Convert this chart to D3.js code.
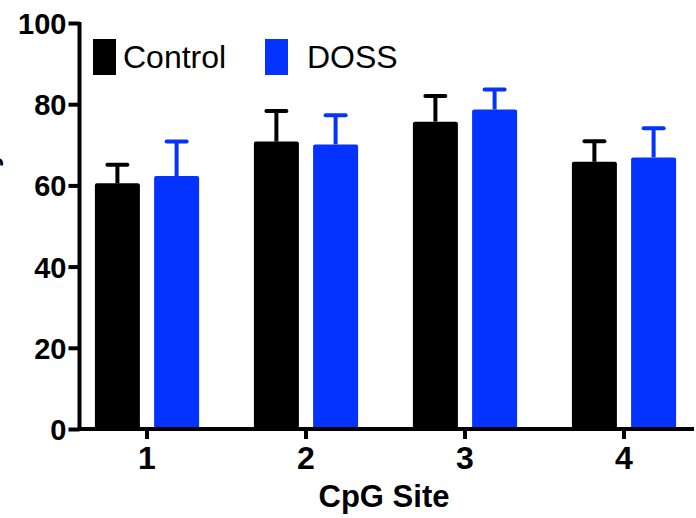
<!DOCTYPE html>
<html>
<head>
<meta charset="utf-8">
<script src="https://cdn.jsdelivr.net/npm/d3@7"></script>
<style>
  html, body { margin: 0; padding: 0; background: #fff; }
  svg { display: block; }
</style>
</head>
<body>
<svg id="chart" width="696" height="518"></svg>
<script>
// CpG site methylation, Control vs DOSS (mean with upper SD whisker)
const sites = ["1", "2", "3", "4"];
const groups = ["Control", "DOSS"];
const controlMean = [60.5, 70.8, 75.7, 65.8];
const controlErr  = [4.6, 7.5, 6.3, 5.1];
const dossMean    = [62.3, 70.1, 78.7, 66.9];
const dossErr     = [8.5, 7.2, 4.9, 7.2];
const yTicks = [0, 20, 40, 60, 80, 100];

const colors = { Control: "#000000", DOSS: "#0433FF" };
const series = { Control: { mean: controlMean, err: controlErr },
                 DOSS:    { mean: dossMean,    err: dossErr } };

const svg = d3.select("#chart");
const axisLeftX = 79.5, baseY = 429;

const y = d3.scaleLinear().domain([0, 100]).range([baseY, 23]);
const x = d3.scaleBand().domain(sites).range([67.5, 703.5]).paddingInner(0).paddingOuter(0);
const xi = d3.scaleBand().domain(groups).range([27.4, 131.6]).paddingInner(0.24).paddingOuter(0);

// bars
const data = [];
sites.forEach((s, i) => groups.forEach(g => data.push({
  site: s, group: g, mean: series[g].mean[i], err: series[g].err[i]
})));

const bar = svg.append("g").selectAll("g").data(data).join("g")
  .attr("transform", d => `translate(${x(d.site) + xi(d.group)},0)`);

// error whiskers (upper only)
bar.append("line")
  .attr("x1", xi.bandwidth() / 2).attr("x2", xi.bandwidth() / 2)
  .attr("y1", d => y(d.mean)).attr("y2", d => y(d.mean + d.err))
  .attr("stroke", d => colors[d.group]).attr("stroke-width", 4);
bar.append("line")
  .attr("x1", xi.bandwidth() / 2 - 10).attr("x2", xi.bandwidth() / 2 + 10)
  .attr("y1", d => y(d.mean + d.err)).attr("y2", d => y(d.mean + d.err))
  .attr("stroke", d => colors[d.group]).attr("stroke-width", 4)
  .attr("stroke-linecap", "round");

bar.append("rect")
  .attr("x", 0).attr("width", xi.bandwidth())
  .attr("y", d => y(d.mean)).attr("height", d => y(0) - y(d.mean))
  .attr("rx", 2)
  .attr("fill", d => colors[d.group]);

// y axis
const yAxis = svg.append("g")
  .attr("transform", `translate(${axisLeftX},0)`)
  .call(d3.axisLeft(y).tickValues(yTicks).tickSize(11).tickPadding(2).tickSizeOuter(0));
yAxis.select(".domain").remove();
yAxis.selectAll(".tick line").attr("stroke", "#000").attr("stroke-width", 4);
yAxis.selectAll(".tick text")
  .attr("font-family", "Liberation Sans, Arial, sans-serif")
  .attr("font-weight", "bold").attr("font-size", 29).attr("fill", "#000")
  .attr("dy", "0.36em");
yAxis.append("line")
  .attr("x1", 0).attr("x2", 0).attr("y1", y(100) - 1).attr("y2", baseY + 2)
  .attr("stroke", "#000").attr("stroke-width", 4);

// x axis
const xAxis = svg.append("g")
  .attr("transform", `translate(0,${baseY})`)
  .call(d3.axisBottom(x).tickSize(10).tickPadding(7).tickSizeOuter(0));
xAxis.select(".domain").remove();
xAxis.selectAll(".tick line").attr("stroke", "#000").attr("stroke-width", 4);
xAxis.selectAll(".tick text")
  .attr("font-family", "Liberation Sans, Arial, sans-serif")
  .attr("font-weight", "bold").attr("font-size", 32).attr("fill", "#000");
xAxis.append("line")
  .attr("x1", axisLeftX - 2).attr("x2", 694).attr("y1", 0).attr("y2", 0)
  .attr("stroke", "#000").attr("stroke-width", 4);

// axis titles
svg.append("text")
  .attr("x", 384).attr("y", 507)
  .attr("text-anchor", "middle")
  .attr("font-family", "Liberation Sans, Arial, sans-serif")
  .attr("font-weight", "bold").attr("font-size", 31)
  .text("CpG Site");

svg.append("text")
  .attr("transform", "translate(-3,265) rotate(-90)")
  .attr("text-anchor", "start")
  .attr("font-family", "Liberation Sans, Arial, sans-serif")
  .attr("font-weight", "bold").attr("font-size", 28)
  .text("% Methylation");

// legend
const legend = svg.append("g").selectAll("g").data(groups).join("g")
  .attr("transform", (d, i) => `translate(${[93, 265][i]},39)`);
legend.append("rect")
  .attr("width", 23).attr("height", 36)
  .attr("fill", d => colors[d]);
legend.append("text")
  .attr("x", (d, i) => [30, 42][i]).attr("y", 29)
  .attr("font-family", "Liberation Sans, Arial, sans-serif")
  .attr("font-size", 32).attr("fill", "#000")
  .text(d => d);
</script>
</body>
</html>
